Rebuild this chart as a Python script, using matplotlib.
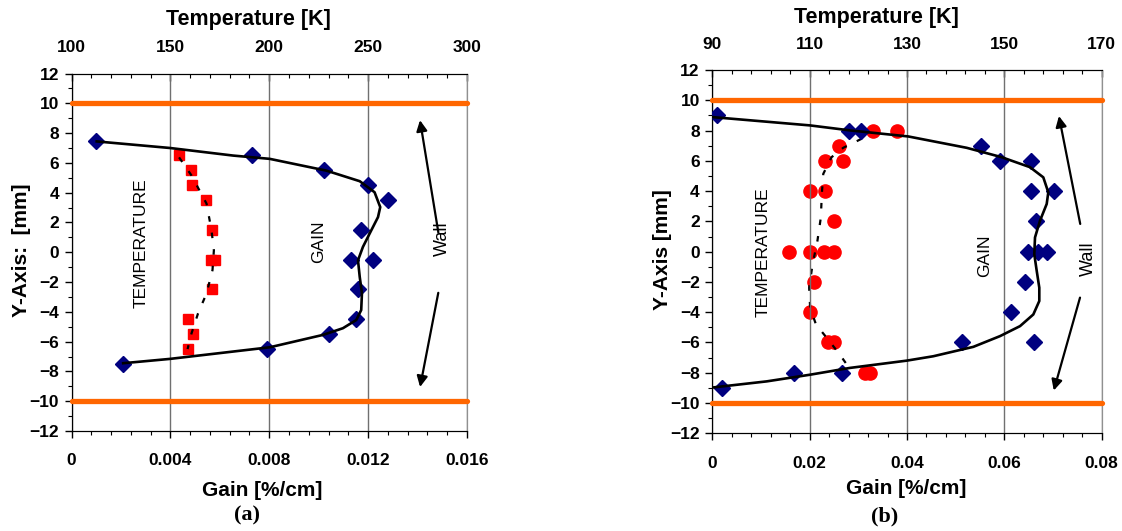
import numpy as np
import matplotlib
matplotlib.use('Agg')
import matplotlib.pyplot as plt
from matplotlib.ticker import MultipleLocator

plt.rcParams['font.family'] = ['Liberation Sans', 'DejaVu Sans']
plt.rcParams['font.weight'] = 'bold'

# ---- panel (a) ----
gain_a = [0.0010, 0.0073, 0.0102, 0.0120, 0.0128, 0.0117, 0.0113, 0.0122, 0.0116, 0.0115, 0.0104, 0.0079, 0.0021]
gain_a_y = [7.5, 6.5, 5.5, 4.5, 3.5, 1.5, -0.5, -0.5, -2.5, -4.5, -5.5, -6.5, -7.5]
fit_gain_a = [0.00102, 0.00398, 0.00654, 0.00802, 0.01031, 0.01166, 0.01226, 0.01249, 0.01240, 0.01206, 0.01179,
              0.01159, 0.01166, 0.01175, 0.01172, 0.01152, 0.01098, 0.01017, 0.00802, 0.00398, 0.00209]
fit_gain_a_y = [7.44, 7.0, 6.49, 6.27, 5.48, 4.77, 4.03, 3.03, 2.36, 1.25, 0.36,
                -0.54, -1.65, -2.76, -3.88, -4.55, -5.1, -5.55, -6.38, -7.16, -7.45]
temp_a = [154.4, 160.4, 160.9, 167.9, 170.8, 170.6, 172.4, 170.8, 158.7, 161.5, 158.7]
temp_a_y = [6.5, 5.5, 4.5, 3.5, 1.5, -0.5, -0.5, -2.5, -4.5, -5.5, -6.5]
fit_temp_a = [154.4, 160.7, 168.3, 170.8, 172.0, 171.3, 168.3, 164.0, 160.7, 158.7]
fit_temp_a_y = [6.37, 5.15, 3.26, 1.47, 0.13, -1.2, -2.76, -4.1, -5.44, -6.5]

# ---- panel (b) ----
gain_b = [0.0010, 0.0281, 0.0305, 0.0553, 0.0591, 0.0655, 0.0655, 0.0702, 0.0665, 0.0649, 0.0670, 0.0687,
          0.0643, 0.0613, 0.0512, 0.0661, 0.0168, 0.0267, 0.0019]
gain_b_y = [9, 8, 8, 7, 6, 6, 4, 4, 2, 0, 0, 0, -2, -4, -6, -6, -8, -8, -9]
fit_gain_b = [0.0, 0.02007, 0.02829, 0.04027, 0.05226, 0.05945, 0.06527, 0.0680, 0.06903, 0.0687, 0.06732,
              0.0663, 0.06615, 0.06665, 0.06718, 0.06718, 0.06595, 0.06322, 0.05911, 0.05362, 0.0454,
              0.03994, 0.02829, 0.02007, 0.01118, 0.0002]
fit_gain_b_y = [8.89, 8.34, 8.01, 7.61, 6.86, 6.24, 5.58, 4.91, 3.92, 3.15, 2.04,
                0.94, -0.17, -1.27, -2.38, -3.26, -4.15, -4.92, -5.58, -6.29, -6.91,
                -7.2, -7.68, -8.13, -8.57, -8.97]
temp_b = [123.0, 127.9, 116.1, 113.2, 116.9, 110.1, 113.2, 115.0, 105.8, 110.1, 112.9, 115.0,
          110.9, 110.1, 113.8, 114.9, 121.4, 122.5]
temp_b_y = [8, 8, 7, 6, 6, 4, 4, 2, 0, 0, 0, 0, -2, -4, -6, -6, -8, -8]
fit_temp_b = [120.7, 116.9, 114.5, 112.8, 112.5, 112.3, 111.6, 110.6, 109.9, 110.1, 111.3, 113.5, 116.2, 118.6]
fit_temp_b_y = [7.46, 6.86, 6.24, 5.14, 3.81, 2.26, 0.72, -0.83, -2.38, -3.7, -4.81, -5.69, -6.8, -7.9]

gain_ticks_a = ['0', '0.004', '0.008', '0.012', '0.016']
gain_ticks_b = ['0', '0.02', '0.04', '0.06', '0.08']
temp_ticks_a = [100, 150, 200, 250, 300]
temp_ticks_b = [90, 110, 130, 150, 170]

WALL_Y = [10, -10]
ORANGE = '#FF6600'
NAVY = '#000080'
W, H = 1122, 531


def px_rect(x0, x1, ytop, ybot):
    return [x0 / W, 1 - ybot / H, (x1 - x0) / W, (ybot - ytop) / H]


def panel(fig, rect, gticks, gminor, tticks, tminor,
          gx, gy, fx, fy, tx, ty, ftx, fty, tmarker, tms, txt_pos, arrows, wall_box):
    ax = fig.add_axes(rect)
    ax2 = ax.twiny()
    ax.set_zorder(ax2.get_zorder() + 1)
    ax.patch.set_visible(False)

    gvals = [float(v) for v in gticks]
    xlim = (gvals[0], gvals[-1])
    ax.set_xlim(*xlim); ax.set_ylim(-12, 12)
    ax.set_xticks(gvals)
    ax.set_xticklabels(gticks)
    ax.xaxis.set_minor_locator(MultipleLocator(gminor))
    ax.yaxis.set_major_locator(MultipleLocator(2))
    ax.yaxis.set_minor_locator(MultipleLocator(1))
    ax.grid(True, axis='x', which='major', color='#707070', lw=1.0)
    ax.set_axisbelow(True)
    for y in WALL_Y:
        ax.plot(xlim, [y, y], color=ORANGE, lw=3.8, solid_capstyle='round', zorder=3, clip_on=False)

    ax.plot(gx, gy, ls='none', marker='D', ms=8, color=NAVY, zorder=4)
    ax.plot(fx, fy, color='black', lw=1.9, zorder=5)

    ax2.set_xlim(tticks[0], tticks[-1])
    ax2.set_xticks(tticks)
    ax2.set_xticks(np.arange(tticks[0], tticks[-1] + 0.1, tminor), minor=True)
    ax2.plot(tx, ty, ls='none', marker=tmarker, ms=tms, color='red', mec='red', zorder=3)
    ax2.plot(ftx, fty, color='black', lw=1.6, ls=(0, (2.5, 5)), zorder=4)

    ax.tick_params(axis='x', which='major', direction='out', length=5, width=1, pad=11, labelsize=12.5)
    ax.tick_params(axis='x', which='minor', direction='out', length=3, width=0.8)
    ax.tick_params(axis='y', which='major', direction='out', length=5, width=1, pad=4, labelsize=12.5)
    ax.tick_params(axis='y', which='minor', direction='out', length=3, width=0.8)
    ax2.tick_params(axis='x', which='major', direction='in', length=5, width=1, pad=13, labelsize=12.5)
    ax2.tick_params(axis='x', which='minor', direction='in', length=3, width=0.8)
    for a in (ax, ax2):
        a.spines['right'].set_color('#909090')

    tp, gp, wp = txt_pos
    ax.text(*tp, 'TEMPERATURE', rotation=90, ha='center', va='center', fontsize=12.5,
            fontweight='normal', zorder=6)
    ax.text(*gp, 'GAIN', rotation=90, ha='center', va='center', fontsize=12.5,
            fontweight='normal', zorder=6)
    bbox = dict(facecolor='white', edgecolor='none', pad=2) if wall_box else None
    ax.text(*wp, 'Wall', rotation=90, ha='center', va='center', fontsize=13,
            fontweight='normal', zorder=6, bbox=bbox)
    for (x0, y0), (x1, y1) in arrows:
        ax.annotate('', xy=(x1, y1), xytext=(x0, y0), zorder=6,
                    arrowprops=dict(arrowstyle='-|>', color='black', lw=1.6, mutation_scale=16))
    return ax, ax2


fig = plt.figure(figsize=(W / 100, H / 100), dpi=100)

panel(fig, px_rect(71.5, 467, 73.5, 431), gain_ticks_a, 0.0008, temp_ticks_a, 10,
      gain_a, gain_a_y, fit_gain_a, fit_gain_a_y, temp_a, temp_a_y, fit_temp_a, fit_temp_a_y,
      's', 6.5,
      ((0.0028, 0.6), (0.0100, 0.7), (0.0150, 0.9)),
      [((0.01486, 1.14), (0.01408, 9.05)), ((0.01486, -2.54), (0.01408, -9.23))], False)

panel(fig, px_rect(712.3, 1101.7, 70, 433.3), gain_ticks_b, 0.004, temp_ticks_b, 4,
      gain_b, gain_b_y, fit_gain_b, fit_gain_b_y, temp_b, temp_b_y, fit_temp_b, fit_temp_b_y,
      'o', 9.5,
      ((0.0105, -0.05), (0.0560, -0.3), (0.0772, -0.45)),
      [((0.0757, 1.65), (0.0711, 9.14)), ((0.0757, -2.86), (0.0700, -9.35))], True)

bold = dict(fontweight='bold', ha='center', va='center')
fig.text(248 / W, 1 - 20 / H, 'Temperature [K]', fontsize=15.5, **bold)
fig.text(876 / W, 1 - 18 / H, 'Temperature [K]', fontsize=15.5, **bold)
fig.text(262 / W, 1 - 490 / H, 'Gain [%/cm]', fontsize=15, **bold)
fig.text(906 / W, 1 - 488 / H, 'Gain [%/cm]', fontsize=15, **bold)
fig.text(22 / W, 1 - 250 / H, 'Y-Axis:  [mm]', fontsize=15, rotation=90, **bold)
fig.text(662 / W, 1 - 250 / H, 'Y-Axis [mm]', fontsize=15, rotation=90, **bold)
fig.text(247 / W, 1 - 515 / H, '(a)', fontsize=16, family=['Liberation Serif', 'DejaVu Serif'], **bold)
fig.text(885 / W, 1 - 516 / H, '(b)', fontsize=16, family=['Liberation Serif', 'DejaVu Serif'], **bold)

fig.savefig('out.png', dpi=100)
